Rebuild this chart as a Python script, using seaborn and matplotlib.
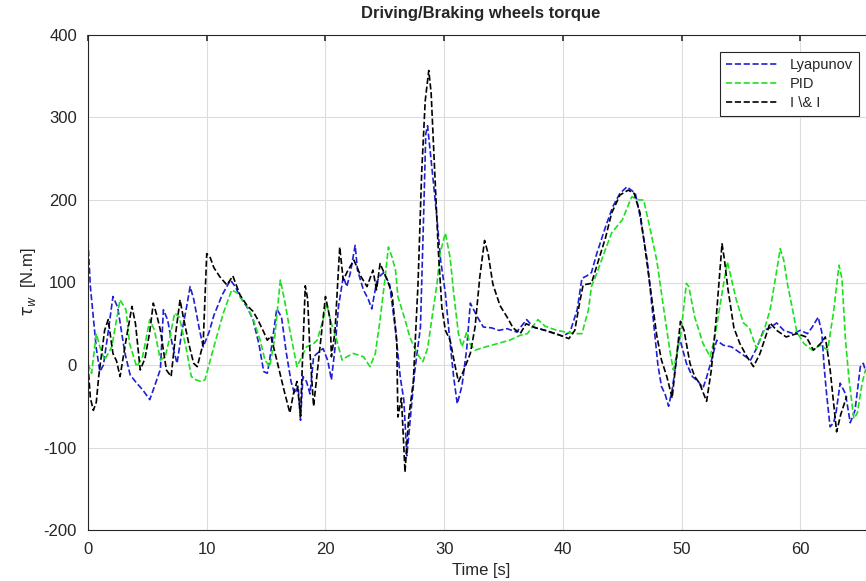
import numpy as np
import pandas as pd
import seaborn as sns
import matplotlib
matplotlib.use("Agg")
import matplotlib.pyplot as plt

# values (time in s, torque in N.m)
t_lyap = [0, 0.2, 0.4, 0.7, 1.0, 1.3, 1.7, 2.1, 2.5, 3.1, 3.55, 4.1, 4.6, 5.2, 5.5, 6.1, 6.35, 6.7, 7.1, 7.5,
          7.9, 8.3, 8.6, 8.9, 9.4, 9.7, 10.2, 10.6, 11.3, 12.0, 12.4, 12.8, 13.4, 13.9, 14.4, 14.8, 15.1, 15.3,
          15.9, 16.3, 16.7, 17.1, 17.4, 17.7, 17.9, 18.1, 18.4, 18.7, 19.0, 19.3, 19.8, 20.2, 20.5, 20.8, 21.1,
          21.5, 21.8, 22.1, 22.5, 22.7, 23.2, 23.6, 23.9, 24.3, 24.6, 24.9, 25.4, 25.9, 26.3, 26.6, 26.85, 27.0,
          27.3, 27.5, 28.0, 28.25, 28.45, 28.6, 28.8, 29.1, 29.4, 29.7, 30.1, 30.5, 30.8, 31.1, 31.5, 31.9, 32.2,
          32.8, 33.3, 34.0, 34.6, 35.3, 36.1, 36.95, 37.5, 38.5, 39.3, 40.0, 40.6, 41.2, 41.6, 42.0, 42.4, 42.85,
          43.6, 44.2, 44.8, 45.4, 46.1, 46.5, 47.1, 47.6, 48.0, 48.3, 48.6, 48.9, 49.2, 49.5, 49.8, 50.4, 50.9,
          51.4, 51.8, 52.1, 52.5, 52.95, 53.5, 54.2, 54.9, 55.8, 56.3, 56.9, 57.45, 58.0, 58.6, 59.4, 60.0, 60.6,
          61.0, 61.5, 61.8, 62.0, 62.2, 62.5, 62.8, 63.0, 63.35, 63.8, 64.2, 64.6, 65.05, 65.3, 65.5]
v_lyap = [150, 95, 65, 20, -8, 0, 40, 83, 70, 15, -12, -22, -30, -42, -30, -5, 67, 55, 25, 2,
          40, 70, 95, 80, 42, 22, 40, 60, 85, 103, 95, 83, 70, 55, 25, -8, -10, 6,
          68, 58, 15, -20, -35, -26, -67, -14, -20, -35, 10, 14, 20, 5, -18, 20, 71,
          107, 95, 112, 145, 115, 91, 80, 68, 100, 108, 112, 98, 42, -15, -42, -110, -88,
          -42, -10, 46, 172, 280, 290, 262, 220, 176, 127, 87, 26, -15, -47, -25, 20, 75,
          58, 46, 45, 42, 44, 40, 55, 46, 42, 38, 35, 40, 67, 105, 108, 112, 135,
          168, 192, 208, 216, 208, 180, 127, 57, 0, -26, -35, -50, -30, 0, 34, 2, -14,
          -20, -28, -15, 5, 30, 24, 22, 15, 6, 20, 42, 45, 51, 42, 38, 42, 38,
          46, 58, 40, -2, -34, -75, -70, -58, -22, -35, -70, -55, -2, 2, -8]

t_pid = [0, 0.3, 0.7, 1.0, 1.4, 2.0, 2.4, 2.7, 3.2, 3.5, 4.1, 4.6, 5.2, 5.6, 6.1, 6.5, 6.9, 7.3, 7.7, 8.3,
         8.7, 9.1, 9.5, 9.85, 10.6, 11.4, 12.1, 12.6, 13.4, 14.0, 14.5, 14.9, 15.3, 15.7, 16.2, 16.6, 17.0,
         17.6, 18.0, 18.4, 19.0, 19.3, 19.8, 20.1, 20.4, 20.95, 21.4, 21.8, 22.35, 23.2, 23.75, 24.2, 24.6,
         25.0, 25.3, 25.6, 25.9, 26.1, 26.7, 27.1, 27.7, 28.2, 28.6, 29.0, 29.4, 29.65, 30.1, 30.5, 30.8,
         31.2, 31.5, 31.9, 32.2, 32.6, 33.5, 34.5, 35.5, 36.4, 37.0, 37.9, 38.5, 39.5, 40.2, 41.0, 41.6,
         42.15, 42.4, 42.85, 43.55, 44.1, 45.0, 45.8, 46.4, 46.8, 47.3, 47.9, 48.5, 49.0, 49.3, 49.9, 50.4,
         50.6, 51.1, 51.8, 52.4, 52.8, 53.4, 53.85, 54.1, 54.6, 55.2, 55.7, 56.3, 56.9, 57.45, 57.9, 58.3,
         58.6, 58.9, 59.4, 59.7, 60.3, 61.0, 61.7, 62.3, 62.8, 63.25, 63.5, 63.8, 64.1, 64.5, 64.8, 65.2, 65.5]
v_pid = [2, -10, 38, 22, 6, 22, 55, 79, 67, 26, -2, 10, 55, 42, 6, 10, 34, 63, 58, 18,
         -14, -18, -20, -18, 22, 63, 91, 87, 71, 52, 30, 6, -2, 30, 103, 75, 42,
         -2, 10, 22, 26, 30, 55, 75, 55, 30, 6, 10, 14, 10, -2, 14, 55,
         103, 143, 131, 115, 83, 55, 34, 14, 4, 20, 60, 99, 135, 160, 130, 87,
         38, 22, 40, 25, 18, 22, 26, 30, 36, 38, 55, 47, 42, 40, 38, 38,
         67, 95, 111, 139, 160, 176, 204, 200, 200, 168, 127, 67, 18, -6, 34, 99,
         95, 58, 26, 10, 34, 87, 125, 110, 79, 51, 45, 20, 40, 67, 105, 141,
         127, 99, 63, 40, 26, 18, 24, 18, 65, 121, 105, 30, -18, -65, -58, -22, -5]

t_ii = [0, 0.2, 0.45, 0.7, 0.9, 1.2, 1.4, 1.7, 2.1, 2.4, 2.7, 3.2, 3.7, 4.0, 4.4, 4.8, 5.2, 5.5, 5.8, 6.1,
        6.6, 7.0, 7.4, 7.75, 8.0, 8.5, 8.9, 9.2, 9.7, 10.0, 10.3, 10.6, 11.1, 11.7, 12.2, 12.8, 13.4, 13.9,
        14.3, 14.8, 15.1, 15.4, 15.9, 16.5, 17.0, 17.3, 17.6, 17.9, 18.1, 18.3, 18.5, 18.7, 19.0, 19.3, 19.6,
        20.0, 20.4, 20.5, 20.8, 21.2, 21.5, 21.9, 22.4, 23.0, 23.5, 24.0, 24.3, 24.6, 25.2, 25.6, 26.0, 26.1,
        26.4, 26.7, 27.0, 27.4, 27.8, 28.1, 28.4, 28.7, 28.9, 29.2, 29.5, 29.8, 30.1, 30.5, 30.9, 31.2, 31.6,
        32.2, 32.6, 33.0, 33.4, 33.7, 34.1, 34.7, 35.3, 35.8, 36.4, 36.9, 37.7, 38.5, 39.4, 40.5, 41.0, 41.4,
        41.7, 42.4, 43.0, 43.6, 44.1, 44.8, 45.5, 46.0, 46.5, 46.9, 47.35, 47.9, 48.3, 48.75, 49.2, 49.6,
        49.9, 50.2, 50.7, 51.1, 51.5, 52.1, 52.5, 52.9, 53.4, 53.6, 53.9, 54.4, 54.9, 55.5, 56.05, 56.6,
        57.45, 58.0, 58.8, 59.7, 60.5, 61.1, 61.7, 62.1, 62.5, 62.8, 63.05, 63.4, 63.9]
v_ii = [0, -40, -55, -45, -14, 20, 42, 55, 14, 5, -14, 30, 71, 50, -6, 8, 40, 75, 60, 42,
        -6, -14, 40, 79, 60, 25, 2, -2, 26, 135, 130, 118, 107, 97, 108, 85, 72, 65,
        55, 40, 30, 35, 6, -30, -58, -35, -20, -62, 20, 96, 80, 14, -50, -10, 30,
        83, 55, 10, 40, 143, 103, 115, 127, 107, 95, 115, 91, 123, 103, 87, 30, -63,
        -40, -130, -65, -20, 100, 232, 320, 357, 330, 235, 140, 70, 42, 30, 0, -20, -8,
        14, 46, 107, 151, 135, 98, 72, 58, 45, 38, 50, 45, 42, 38, 32, 42, 75,
        97, 99, 127, 155, 184, 206, 212, 208, 184, 143, 95, 36, 6, -14, -40, 14,
        53, 42, 2, -14, -22, -44, -6, 55, 147, 128, 92, 45, 26, 10, -2, 14,
        51, 42, 34, 38, 34, 18, 26, 34, -5, -46, -81, -60, -38]

labels = ["Lyapunov", "PID", "I \\& I"]
colors = ["#1f1fd6", "#1fe01f", "#000000"]

sns.set_theme(style="white")
plt.rcParams["font.family"] = ["Liberation Sans", "DejaVu Sans"]
plt.rcParams["axes.unicode_minus"] = False

fig = plt.figure(figsize=(8.66, 5.81), dpi=100)
ax = fig.add_axes([88 / 866, 51 / 581, 786 / 866, 495 / 581])

series = [(t_lyap, v_lyap), (t_pid, v_pid), (t_ii, v_ii)]
for (t, v), lab, c in zip(series, labels, colors):
    sns.lineplot(x=t, y=v, ax=ax, color=c, label=lab, linestyle="--", linewidth=1.2,
                 estimator=None, sort=False, dashes=False)

ax.set_xlim(0, 66.2)
ax.set_ylim(-200, 400)
ax.set_xticks(np.arange(0, 61, 10))
ax.set_yticks(np.arange(-200, 401, 100))
ax.grid(True, color="#dcdcdc", linewidth=0.8)
ax.tick_params(direction="in", top=True, right=True, labelsize=12, length=4, color="#333333")
ax.tick_params(axis="x", pad=9)
ax.tick_params(axis="y", pad=8)
for s in ax.spines.values():
    s.set_color("#262626")
    s.set_linewidth(0.8)

ax.set_title("Driving/Braking wheels torque", fontsize=12, fontweight="bold", pad=12)
ax.set_xlabel("Time [s]", fontsize=12, labelpad=4)
ax.set_ylabel(r"$\tau_w$  [N.m]", fontsize=12, labelpad=4)

leg = ax.legend(loc="upper right", bbox_to_anchor=((866 - 88) / 786, (530 - 45) / 495),
                fontsize=10.5, frameon=True, fancybox=False, framealpha=1,
                edgecolor="#262626", handlelength=3.6, borderpad=0.4, labelspacing=0.35)
leg.get_frame().set_linewidth(0.8)

fig.savefig("out.png", dpi=100)
